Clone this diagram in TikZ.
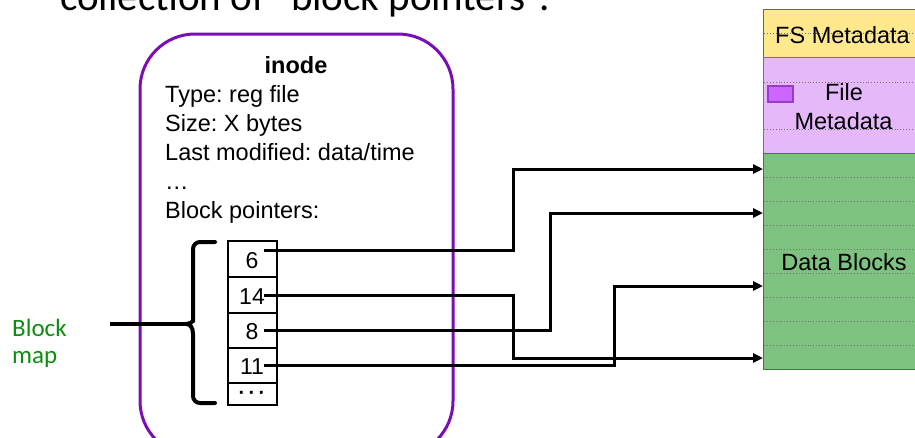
\documentclass[tikz,border=0pt]{standalone}
\usepackage{fontspec}
\setmainfont{Liberation Sans}
\newfontfamily\calfont{Carlito}
\usetikzlibrary{arrows.meta}
\frenchspacing

\definecolor{inodepurple}{RGB}{122,14,178}
\definecolor{fsyellow}{RGB}{255,233,140}
\definecolor{metapurple}{RGB}{229,184,250}
\definecolor{metaedge}{RGB}{160,80,208}
\definecolor{datagreen}{RGB}{126,194,128}
\definecolor{dataedge}{RGB}{62,122,64}
\definecolor{iconfill}{RGB}{204,102,255}
\definecolor{iconedge}{RGB}{150,60,200}
\definecolor{labelgreen}{RGB}{16,140,16}

\tikzset{
  txt/.style={inner sep=0pt, font=\fontsize{23.5}{28}\selectfont},
  numtxt/.style={inner sep=0pt, anchor=base, font=\fontsize{23}{27}\selectfont},
  cell/.style={draw=black, line width=2.5pt},
  ptr/.style={draw=black, line width=3pt, -{Triangle[length=10pt,width=9pt]}},
  rowline/.style={line width=0.9pt, dotted, draw=black!55},
}

\begin{document}
\begin{tikzpicture}[x=1pt,y=-1pt]
\useasboundingbox (0,0) rectangle (915,437);

% heading line, mostly above the page
\node[inner sep=0pt, anchor=base west, font=\calfont\fontsize{41}{48}\selectfont] (heading)
  at (60,10) {collection of “block pointers”.};

% ---------- inode ----------
\draw[inodepurple, line width=3pt, rounded corners=55pt] (140,34) rectangle (453,456);
\node[txt, anchor=base, font=\bfseries\fontsize{23.5}{28}\selectfont] (ititle) at (296,73) {inode};
\node[txt, anchor=base west] (itype) at (165,102) {Type: reg file};
\node[txt, anchor=base west] (isize) at (165,131) {Size: X bytes};
\node[txt, anchor=base west] (imod)  at (165,160) {Last modified: data/time};
\node[txt, anchor=base west] (idots) at (165,189) {…};
\node[txt, anchor=base west] (iptrs) at (165,218) {Block pointers:};

% block pointer cells
\draw[cell] (228,241) rectangle (277,405);
\foreach \yy in {277,313,348,383} \draw[cell] (228,\yy) -- (277,\yy);
\node[numtxt] (n6)  at (252,268) {6};
\node[numtxt] (n14) at (252,304) {14};
\node[numtxt] (n8)  at (252,339) {8};
\node[numtxt] (n11) at (252,374) {11};
\node[inner sep=0pt, anchor=base, font=\bfseries\fontsize{20}{24}\selectfont] (nmore) at (252,399) {·\,·\,·};

% brace and block map label
\coordinate (tip) at (186,324);
\draw[line width=4pt, line cap=round] (215,242) [rounded corners=7pt] -- (193,242) -- (193,314)
  [sharp corners] .. controls (193,321) and (190,324) .. (tip)
  .. controls (190,324) and (193,327) .. (193,334)
  [rounded corners=7pt] -- (193,403) -- (215,403);
\coordinate (bmstart) at (110,324);
\draw[line width=4pt] (bmstart) -- (tip);
\node[inner sep=0pt, anchor=base west, text=labelgreen, font=\calfont\fontsize{25}{27}\selectfont] (bmlabel1) at (12,336) {Block};
\node[inner sep=0pt, anchor=base west, text=labelgreen, font=\calfont\fontsize{25}{27}\selectfont] (bmlabel2) at (12,363) {map};

% ---------- disk layout ----------
\filldraw[fill=fsyellow, draw=black!60, line width=0.8pt] (763,9) rectangle (917,57);
\filldraw[fill=metapurple, draw=metaedge, line width=1pt] (763,57) rectangle (917,153);
\filldraw[fill=datagreen, draw=dataedge, line width=1pt] (763,153) rectangle (917,369);
\draw[rowline] (764,33) -- (916,33);
\foreach \yy in {82,129} \draw[rowline] (764,\yy) -- (916,\yy);
\foreach \k in {1,...,8} \draw[rowline] (764,153+24*\k) -- (916,153+24*\k);
\filldraw[fill=iconfill, draw=iconedge, line width=1.5pt] (768,86) rectangle (793,102);
\node[txt, anchor=base] (fsmeta) at (842.5,43) {FS Metadata};
\node[txt, anchor=base] (fmeta1) at (844,100) {File};
\node[txt, anchor=base] (fmeta2) at (843.5,129) {Metadata};
\node[txt, anchor=base] (dblocks) at (844,270) {Data Blocks};

% pointer targets on the data region
\coordinate (t1) at (763,169);
\coordinate (t2) at (763,213);
\coordinate (t3) at (763,286);
\coordinate (t4) at (763,358);

% pointer sources in the cells
\coordinate (s6)  at (264,250);
\coordinate (s14) at (264,295);
\coordinate (s8)  at (264,330);
\coordinate (s11) at (264,365);

\draw[ptr] (s6)  -- ++(249,0) |- (t1);
\draw[ptr] (s14) -- ++(249,0) |- (t4);
\draw[ptr] (s8)  -- ++(286,0) |- (t2);
\draw[ptr] (s11) -- ++(350,0) |- (t3);
\end{tikzpicture}
\end{document}
